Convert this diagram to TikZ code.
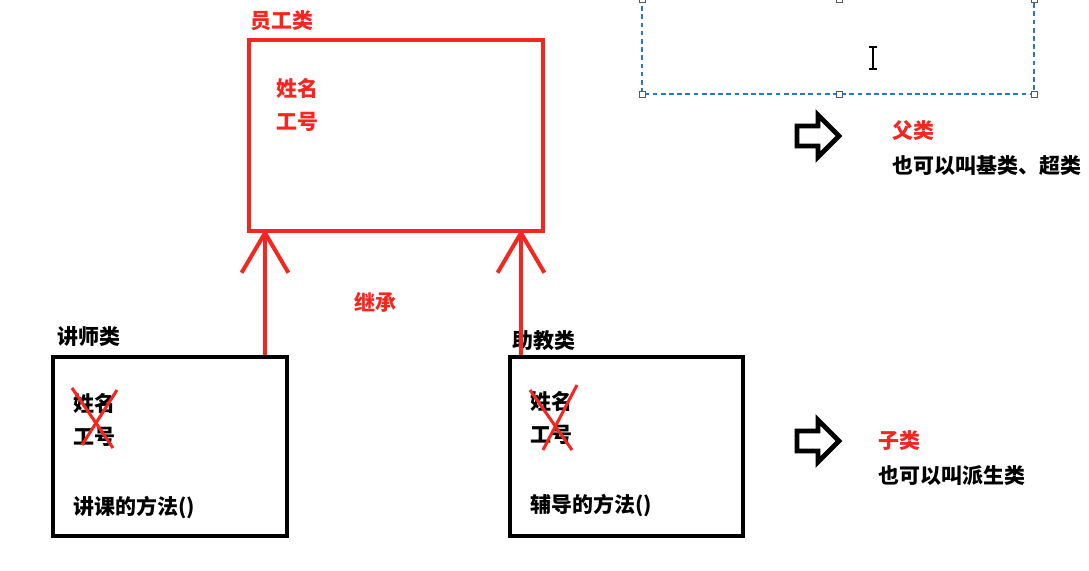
\documentclass[tikz,border=0pt]{standalone}
\usepackage{fontspec}
\newfontfamily\cjk{Noto Sans CJK SC}
\usetikzlibrary{arrows.meta}
\definecolor{inkred}{RGB}{245,38,32}
\definecolor{selblue}{RGB}{40,120,200}

\begin{document}
\begin{tikzpicture}[x=0.03cm, y=-0.03cm,
		every node/.style={font=\cjk\bfseries\fontsize{17.9}{20}\selectfont, inner sep=0pt, anchor=west},
		classbox/.style={draw, line width=3.4pt, anchor=center},
		inherit/.style={inkred, line width=3.4pt, -{Straight Barb[length=34pt, width=40pt, line width=3.4pt]}},
		cross/.style={inkred, line width=2.6pt},
		hollow/.style={line width=4.2pt, line join=miter}]
		\useasboundingbox (0,0) rectangle (1089,571);
		% parent class
		\node[classbox, inkred, minimum width=8.82cm, minimum height=5.73cm] (employee) at (396,135.5) {};
		\node[inkred] (empname) at (250,21) {员工类};
		\node[inkred] (empf1) at (276,88) {姓名};
		\node[inkred] (empf2) at (276,122) {工号};
		% child classes
		\node[classbox, minimum width=7.02cm, minimum height=5.37cm] (teacher) at (170,446.5) {};
		\node (teachname) at (57,337) {讲师类};
		\node (teachf1) at (73,403) {姓名};
		\node (teachf2) at (73,437) {工号};
		\node (teachm) at (73,508) {讲课的方法()};
		\node[classbox, minimum width=6.99cm, minimum height=5.37cm] (assist) at (626.5,446.5) {};
		\node (assistname) at (512,341) {助教类};
		\node (assistf1) at (530,401) {姓名};
		\node (assistf2) at (530,435) {工号};
		\node (assistm) at (530,506) {辅导的方法()};
		% crossed out fields
		\draw[cross] (72,388) -- (113,448);
		\draw[cross] (117,390) -- (82,445);
		\draw[cross] (530,390) -- (572,450);
		\draw[cross] (577,385) -- (543,450);
		% inheritance arrows
		\coordinate (tipL) at (265,229);
		\coordinate (tipR) at (521,229);
		\draw[inherit] (tipL |- teacher.north) -- (tipL);
		\draw[inherit] (tipR |- assist.north) -- (tipR);
		\node[inkred] (extends) at (354,302) {继承};
		% notes
		\foreach \y in {136,441} {
			\draw[hollow] (797,\y-10) -- (818,\y-10) -- (818,\y-21) -- (839,\y) -- (818,\y+21) -- (818,\y+10) -- (797,\y+10) -- cycle;
		}
		\node[inkred] (parent) at (892,131) {父类};
		\node (parentnote) at (892,166) {也可以叫基类、超类};
		\node[inkred] (child) at (878,441) {子类};
		\node (childnote) at (878,476) {也可以叫派生类};
		% selection frame
		\draw[selblue, line width=0.9pt, dash pattern=on 4pt off 3pt] (642,-2) rectangle (1034,94);
		\foreach \x in {642,839,1034} {
			\draw[gray!70!black, fill=white, line width=0.6pt] (\x-3,91) rectangle (\x+3,97);
			\draw[gray!70!black, fill=white, line width=0.6pt] (\x-3,-4) rectangle (\x+3,2);
		}
		\draw[line width=1.2pt] (873,48) -- (873,68) (869,47) -- (877,47) (869,69) -- (877,69);
	\end{tikzpicture}
\end{document}
